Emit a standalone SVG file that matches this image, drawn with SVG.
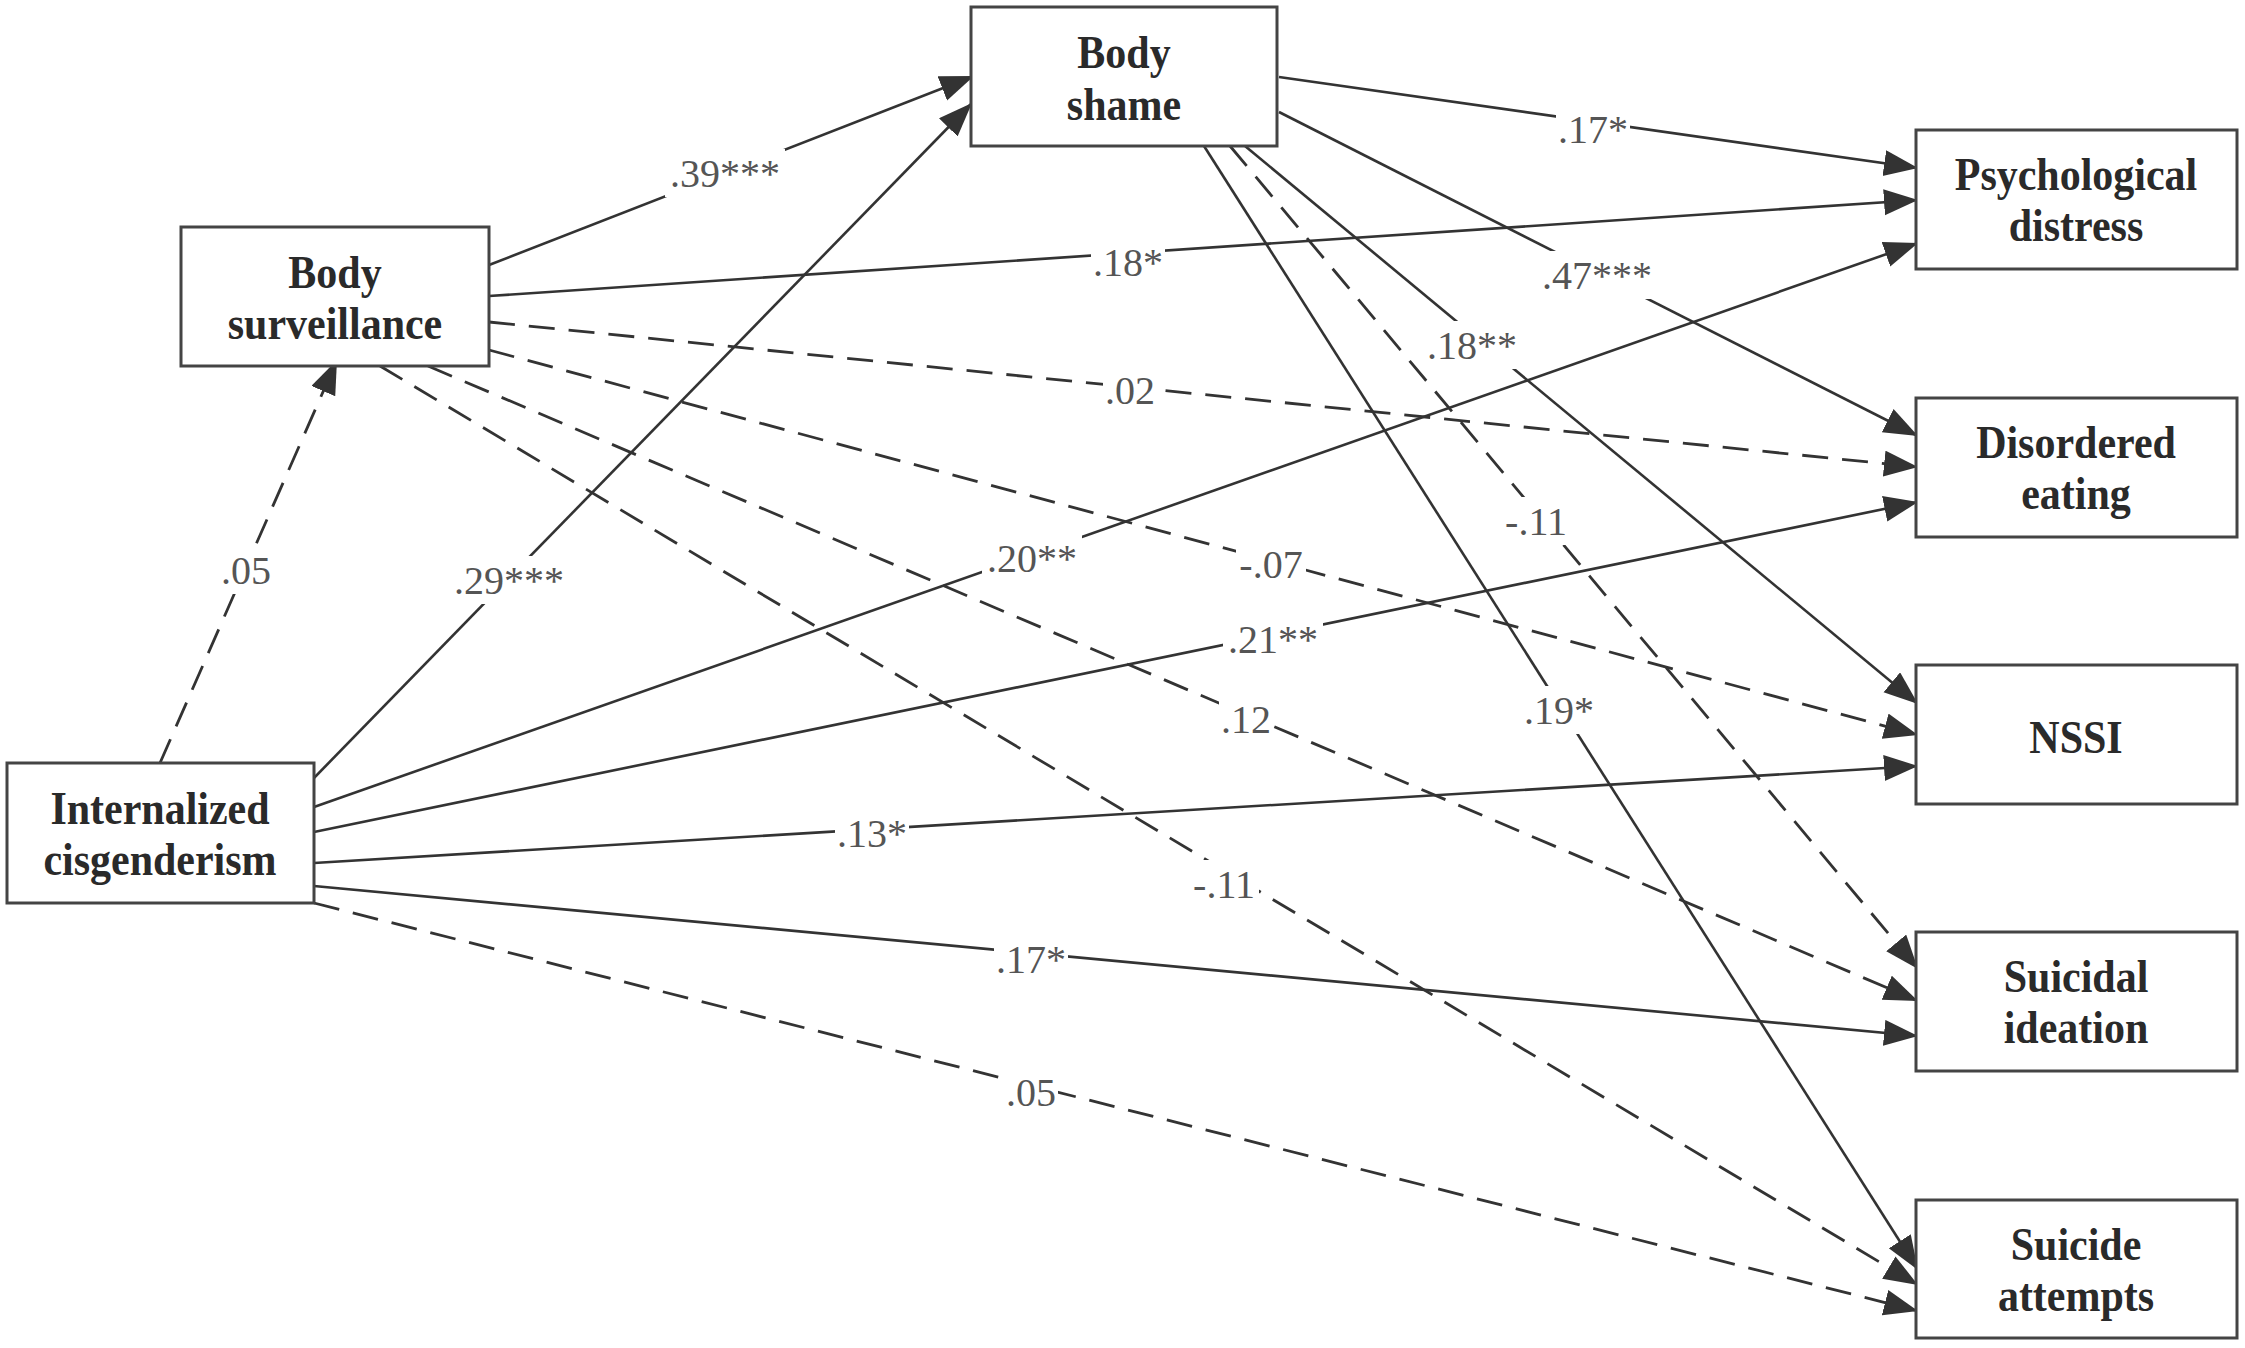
<svg xmlns="http://www.w3.org/2000/svg" width="2245" height="1348" viewBox="0 0 2245 1348">
<style>
.box{fill:#fff;stroke:#444;stroke-width:3}
.nt{font-family:"Liberation Serif","Times New Roman",serif;font-weight:bold;font-size:42px;fill:#2a2a2a;text-anchor:middle}
.ln{fill:none;stroke:#333;stroke-width:2.6;marker-end:url(#ah)}
.ds{stroke-dasharray:26 14;stroke-width:2.8}
.lb{font-family:"Liberation Serif","Times New Roman",serif;font-size:40px;fill:#555;text-anchor:middle}
.bg{fill:#fff}
</style>
<defs>
<marker id="ah" markerUnits="userSpaceOnUse" markerWidth="36" markerHeight="28" refX="34" refY="13" orient="auto">
<path d="M0,0 L34,13 L0,26 Z" fill="#333"/>
</marker>
</defs>
<rect width="2245" height="1348" fill="#fff"/>
<g id="connectors">
<line class="ln ds" x1="160" y1="763" x2="337" y2="360"/>
<line class="ln" x1="489" y1="265" x2="974" y2="76"/>
<line class="ln" x1="313" y1="779" x2="972" y2="103"/>
<line class="ln" x1="1279" y1="77" x2="1918" y2="168"/>
<line class="ln" x1="489" y1="296" x2="1918" y2="200"/>
<line class="ln" x1="314" y1="807" x2="1918" y2="243"/>
<line class="ln" x1="1279" y1="112" x2="1918" y2="436"/>
<line class="ln ds" x1="489" y1="322" x2="1918" y2="467"/>
<line class="ln" x1="314" y1="832" x2="1918" y2="502"/>
<line class="ln" x1="1245" y1="146" x2="1918" y2="704"/>
<line class="ln ds" x1="489" y1="350" x2="1918" y2="735"/>
<line class="ln" x1="314" y1="863" x2="1918" y2="766"/>
<line class="ln ds" x1="1230" y1="146" x2="1918" y2="969"/>
<line class="ln ds" x1="428" y1="366" x2="1918" y2="1001"/>
<line class="ln" x1="314" y1="886" x2="1918" y2="1036"/>
<line class="ln" x1="1204" y1="146" x2="1918" y2="1270"/>
<line class="ln ds" x1="380" y1="366" x2="1918" y2="1285"/>
<line class="ln ds" x1="314" y1="903" x2="1918" y2="1311"/>
</g>
<g id="labels">
<rect class="bg" x="221" y="546" width="50" height="48"/><text class="lb" x="246" y="584">.05</text>
<rect class="bg" x="665" y="149" width="120" height="48"/><text class="lb" x="725" y="187">.39***</text>
<rect class="bg" x="449" y="556" width="120" height="48"/><text class="lb" x="509" y="594">.29***</text>
<rect class="bg" x="1556" y="105" width="74" height="48"/><text class="lb" x="1593" y="143">.17*</text>
<rect class="bg" x="1091" y="238" width="74" height="48"/><text class="lb" x="1128" y="276">.18*</text>
<rect class="bg" x="982" y="534" width="100" height="48"/><text class="lb" x="1032" y="572">.20**</text>
<rect class="bg" x="1537" y="251" width="120" height="48"/><text class="lb" x="1597" y="289">.47***</text>
<rect class="bg" x="1103" y="366" width="54" height="48"/><text class="lb" x="1130" y="404">.02</text>
<rect class="bg" x="1223" y="615" width="100" height="48"/><text class="lb" x="1273" y="653">.21**</text>
<rect class="bg" x="1422" y="321" width="100" height="48"/><text class="lb" x="1472" y="359">.18**</text>
<rect class="bg" x="1236" y="540" width="70" height="48"/><text class="lb" x="1271" y="578">-.07</text>
<rect class="bg" x="835" y="809" width="74" height="48"/><text class="lb" x="872" y="847">.13*</text>
<rect class="bg" x="1501" y="497" width="70" height="48"/><text class="lb" x="1536" y="535">-.11</text>
<rect class="bg" x="1219" y="695" width="54" height="48"/><text class="lb" x="1246" y="733">.12</text>
<rect class="bg" x="994" y="935" width="74" height="48"/><text class="lb" x="1031" y="973">.17*</text>
<rect class="bg" x="1522" y="686" width="74" height="48"/><text class="lb" x="1559" y="724">.19*</text>
<rect class="bg" x="1189" y="860" width="70" height="48"/><text class="lb" x="1224" y="898">-.11</text>
<rect class="bg" x="1004" y="1068" width="54" height="48"/><text class="lb" x="1031" y="1106">.05</text>
</g>
<g id="body-shame"><rect class="box" x="971" y="7" width="306" height="139"/><text class="nt" transform="translate(1124,68) scale(1,1.1)">Body</text><text class="nt" transform="translate(1124,120) scale(1,1.1)">shame</text></g>
<g id="body-surveillance"><rect class="box" x="181" y="227" width="308" height="139"/><text class="nt" transform="translate(335,288) scale(1,1.1)">Body</text><text class="nt" transform="translate(335,339) scale(1,1.1)">surveillance</text></g>
<g id="internalized-cisgenderism"><rect class="box" x="7" y="763" width="307" height="140"/><text class="nt" transform="translate(160,824) scale(1,1.1)">Internalized</text><text class="nt" transform="translate(160,875) scale(1,1.1)">cisgenderism</text></g>
<g id="psychological-distress"><rect class="box" x="1916" y="130" width="321" height="139"/><text class="nt" transform="translate(2076,190) scale(1,1.1)">Psychological</text><text class="nt" transform="translate(2076,241) scale(1,1.1)">distress</text></g>
<g id="disordered-eating"><rect class="box" x="1916" y="398" width="321" height="139"/><text class="nt" transform="translate(2076,458) scale(1,1.1)">Disordered</text><text class="nt" transform="translate(2076,509) scale(1,1.1)">eating</text></g>
<g id="nssi"><rect class="box" x="1916" y="665" width="321" height="139"/><text class="nt" transform="translate(2076,753) scale(1,1.1)">NSSI</text></g>
<g id="suicidal-ideation"><rect class="box" x="1916" y="932" width="321" height="139"/><text class="nt" transform="translate(2076,992) scale(1,1.1)">Suicidal</text><text class="nt" transform="translate(2076,1043) scale(1,1.1)">ideation</text></g>
<g id="suicide-attempts"><rect class="box" x="1916" y="1200" width="321" height="138"/><text class="nt" transform="translate(2076,1260) scale(1,1.1)">Suicide</text><text class="nt" transform="translate(2076,1311) scale(1,1.1)">attempts</text></g>
</svg>
